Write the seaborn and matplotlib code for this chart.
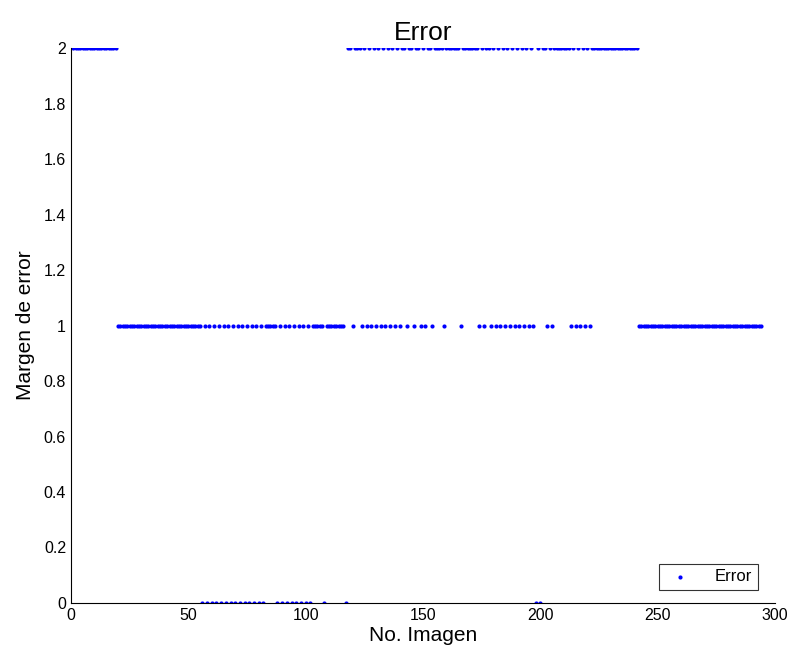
#!/usr/bin/env python

import numpy as np
import pandas as pd
from matplotlib import pyplot as plt
import seaborn as sns

# error value read for each image, images 1..294 (10 per chunk)
error_codes = (
    "2222222222" "2222222221" "1111111111" "1111111111" "1111111111"
    "1111101010" "1010101010" "1010101010" "1011111010" "1010101010"
    "1011111011" "1111110221" "2221212121" "2121212121" "2212212212"
    "1221222212" "2222212222" "2221212212" "1212121212" "1212121020"
    "2212122222" "2212121212" "1222222222" "2222222222" "2111111111"
    "1111111111" "1111111111" "1111111111" "1111111111" "1111"
)
images = np.arange(1, len(error_codes) + 1)
errors = [int(c) for c in error_codes]

x_ticks = [0, 50, 100, 150, 200, 250, 300]
y_ticks = [0, 0.2, 0.4, 0.6, 0.8, 1, 1.2, 1.4, 1.6, 1.8, 2]
y_labels = ["0", "0.2", "0.4", "0.6", "0.8", "1", "1.2", "1.4", "1.6", "1.8", "2"]

df = pd.DataFrame({"imagen": images, "error": errors})

sns.set_style("white")
plt.rcParams['font.family'] = ['Liberation Sans', 'DejaVu Sans']
plt.rcParams['text.color'] = 'black'
plt.rcParams['axes.labelcolor'] = 'black'

fig = plt.figure(figsize=(7.92, 6.58), dpi=100)
ax = fig.add_axes([0.0896, 0.0836, 0.889, 0.8434])

sns.scatterplot(data=df, x="imagen", y="error", color=(0, 0, 1), marker="o",
                s=9, linewidth=0, label="Error", ax=ax)

ax.set_xlim(0, 300)
ax.set_ylim(0, 2)
ax.set_xticks(x_ticks)
ax.set_xticklabels([str(t) for t in x_ticks])
ax.set_yticks(y_ticks)
ax.set_yticklabels(y_labels)
ax.tick_params(direction="in", length=5, width=0.8, labelsize=11.5, colors="black")
for s in ["top", "right"]:
    ax.spines[s].set_visible(False)
for s in ["left", "bottom"]:
    ax.spines[s].set_color("black")
    ax.spines[s].set_linewidth(0.8)

ax.set_xlabel("No. Imagen", fontsize=15, labelpad=2, color="black")
ax.set_ylabel("Margen de error", fontsize=15, labelpad=6, color="black")
ax.set_title("Error", fontsize=19, pad=6, color="black")

leg = ax.legend(loc="lower right", bbox_to_anchor=(0.976, 0.023), borderaxespad=0,
                frameon=True, fancybox=False, fontsize=12, markerscale=1.0,
                handletextpad=1.2, borderpad=0.35, handlelength=1.8)
leg.get_frame().set_edgecolor("black")
leg.get_frame().set_linewidth(0.8)
for t in leg.get_texts():
    t.set_color("black")

fig.savefig("out.png", dpi=100)
plt.close(fig)
